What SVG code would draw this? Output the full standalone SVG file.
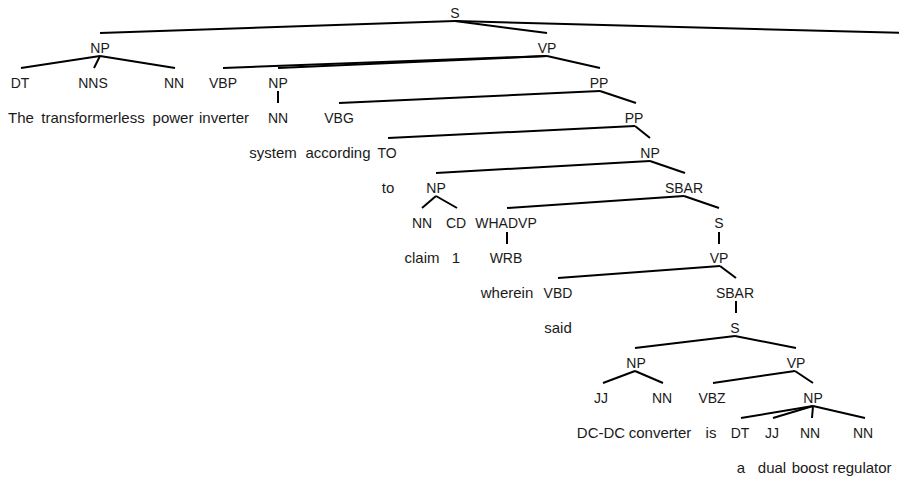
<svg xmlns="http://www.w3.org/2000/svg" width="899" height="482" viewBox="0 0 899 482">
<style>
text{font-family:"Liberation Sans",Arial,sans-serif;font-size:14px;fill:#1a1a1a;text-anchor:middle}
.w text{font-size:15px}
.e line{stroke:#000;stroke-width:2;stroke-linecap:butt}
</style>
<rect width="899" height="482" fill="#fff"/>
<g class="e" id="connectors">
<line x1="455" y1="21" x2="100" y2="33"/>
<line x1="455" y1="21" x2="547" y2="33"/>
<line x1="455" y1="21" x2="905" y2="33"/>
<line x1="100" y1="56" x2="21" y2="68"/>
<line x1="100" y1="56" x2="94" y2="68"/>
<line x1="100" y1="56" x2="175" y2="68"/>
<line x1="547" y1="56" x2="223" y2="68"/>
<line x1="547" y1="56" x2="278" y2="68"/>
<line x1="547" y1="56" x2="600" y2="68"/>
<line x1="278" y1="91" x2="278" y2="103"/>
<line x1="600" y1="91" x2="339" y2="103"/>
<line x1="600" y1="91" x2="636" y2="103"/>
<line x1="635" y1="126" x2="388" y2="138"/>
<line x1="635" y1="126" x2="650" y2="138"/>
<line x1="650" y1="161" x2="436" y2="173"/>
<line x1="650" y1="161" x2="685" y2="173"/>
<line x1="436" y1="196" x2="422" y2="208"/>
<line x1="436" y1="196" x2="457" y2="208"/>
<line x1="684" y1="196" x2="507" y2="208"/>
<line x1="684" y1="196" x2="719" y2="208"/>
<line x1="507" y1="232" x2="507" y2="244"/>
<line x1="719" y1="232" x2="719" y2="244"/>
<line x1="720" y1="266" x2="558" y2="278"/>
<line x1="720" y1="266" x2="736" y2="278"/>
<line x1="736" y1="301" x2="736" y2="313"/>
<line x1="735" y1="336" x2="635" y2="348"/>
<line x1="735" y1="336" x2="796" y2="348"/>
<line x1="635" y1="371" x2="603" y2="383"/>
<line x1="635" y1="371" x2="663" y2="383"/>
<line x1="795" y1="371" x2="713" y2="383"/>
<line x1="795" y1="371" x2="813" y2="383"/>
<line x1="813" y1="406" x2="741" y2="418"/>
<line x1="813" y1="406" x2="773" y2="418"/>
<line x1="813" y1="406" x2="812" y2="418"/>
<line x1="813" y1="406" x2="865" y2="418"/>
</g>
<g id="n-S0"><text x="455" y="18">S</text></g>
<g id="n-NP1"><text x="100" y="53">NP</text></g>
<g id="n-VP1"><text x="547" y="53">VP</text></g>
<g id="n-DT1"><text x="20" y="88">DT</text></g>
<g id="n-NNS1"><text x="93" y="88">NNS</text></g>
<g id="n-NN1"><text x="174" y="88">NN</text></g>
<g id="n-VBP1"><text x="223" y="88">VBP</text></g>
<g id="n-NP2"><text x="278" y="88">NP</text></g>
<g id="n-PP1"><text x="599" y="88">PP</text></g>
<g id="w-The" class="w"><text x="21" y="123">The</text></g>
<g id="w-transformerless" class="w"><text x="93" y="123">transformerless</text></g>
<g id="w-power" class="w"><text x="173" y="123">power</text></g>
<g id="w-inverter" class="w"><text x="224" y="123">inverter</text></g>
<g id="n-NN2"><text x="278" y="123">NN</text></g>
<g id="n-VBG1"><text x="339" y="123">VBG</text></g>
<g id="n-PP2"><text x="634" y="123">PP</text></g>
<g id="w-system" class="w"><text x="273" y="158">system</text></g>
<g id="w-according" class="w"><text x="338" y="158">according</text></g>
<g id="n-TO1"><text x="387" y="158">TO</text></g>
<g id="n-NP3"><text x="650" y="158">NP</text></g>
<g id="w-to" class="w"><text x="388" y="193">to</text></g>
<g id="n-NP4"><text x="436" y="193">NP</text></g>
<g id="n-SBAR1"><text x="684" y="193">SBAR</text></g>
<g id="n-NN3"><text x="422" y="228">NN</text></g>
<g id="n-CD1"><text x="456" y="228">CD</text></g>
<g id="n-WHADVP1"><text x="506" y="228">WHADVP</text></g>
<g id="n-S1"><text x="719" y="228">S</text></g>
<g id="w-claim" class="w"><text x="422" y="263">claim</text></g>
<g id="w-1" class="w"><text x="456" y="263">1</text></g>
<g id="n-WRB1"><text x="506" y="263">WRB</text></g>
<g id="n-VP2"><text x="719" y="263">VP</text></g>
<g id="w-wherein" class="w"><text x="507" y="298">wherein</text></g>
<g id="n-VBD1"><text x="558" y="298">VBD</text></g>
<g id="n-SBAR2"><text x="735" y="298">SBAR</text></g>
<g id="w-said" class="w"><text x="558" y="333">said</text></g>
<g id="n-S2"><text x="735" y="333">S</text></g>
<g id="n-NP5"><text x="636" y="368">NP</text></g>
<g id="n-VP3"><text x="796" y="368">VP</text></g>
<g id="n-JJ1"><text x="601" y="403">JJ</text></g>
<g id="n-NN4"><text x="662" y="403">NN</text></g>
<g id="n-VBZ1"><text x="712" y="403">VBZ</text></g>
<g id="n-NP6"><text x="813" y="403">NP</text></g>
<g id="w-DC-DC" class="w"><text x="601" y="438">DC-DC</text></g>
<g id="w-converter" class="w"><text x="660" y="438">converter</text></g>
<g id="w-is" class="w"><text x="711" y="438">is</text></g>
<g id="n-DT2"><text x="740" y="438">DT</text></g>
<g id="n-JJ2"><text x="772" y="438">JJ</text></g>
<g id="n-NN5"><text x="810" y="438">NN</text></g>
<g id="n-NN6"><text x="863" y="438">NN</text></g>
<g id="w-a" class="w"><text x="741" y="473">a</text></g>
<g id="w-dual" class="w"><text x="772" y="473">dual</text></g>
<g id="w-boost" class="w"><text x="810" y="473">boost</text></g>
<g id="w-regulator" class="w"><text x="862" y="473">regulator</text></g>
</svg>
